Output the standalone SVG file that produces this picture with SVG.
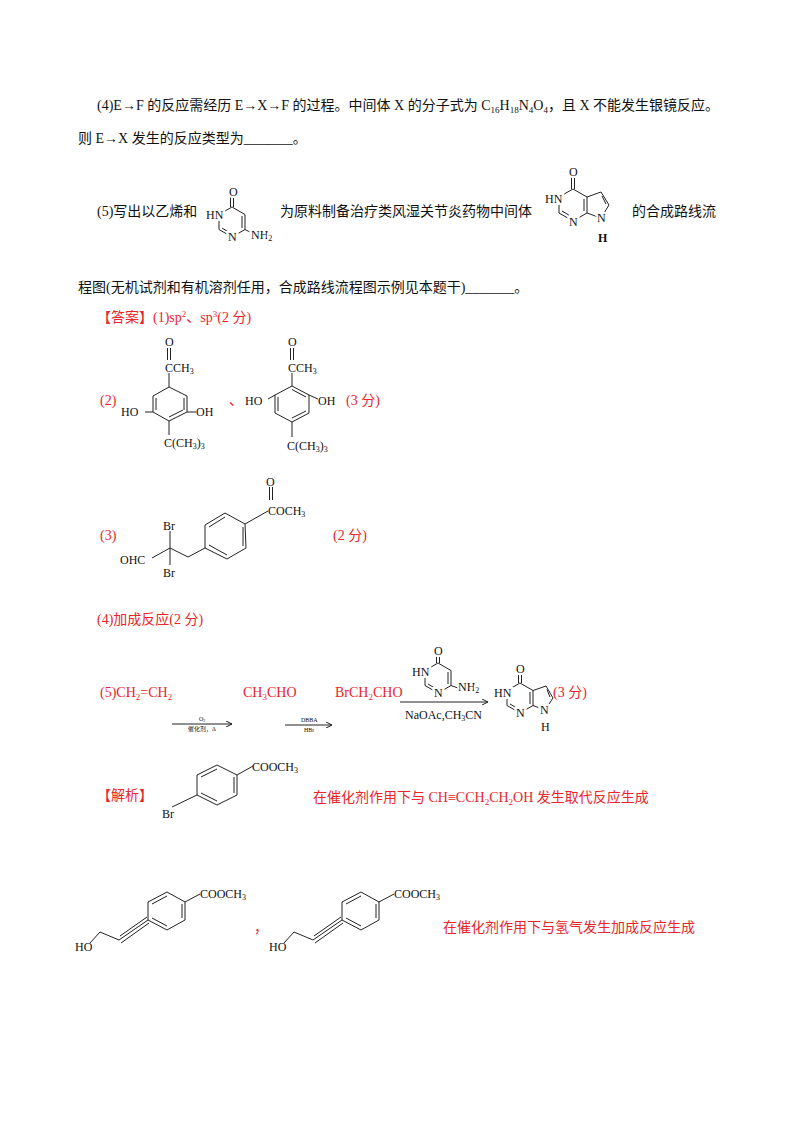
<svg xmlns="http://www.w3.org/2000/svg" width="800" height="1132" viewBox="0 0 800 1132">
<style>
text{font-family:"Liberation Serif","Noto Sans CJK SC",serif;fill:#111}
.t{font-size:14px}
.r{font-size:14px;fill:#e8262b}
.s{font-size:12px}
.h{stroke:#fff;stroke-width:4;paint-order:stroke}
.xs{font-size:6px}
.b{fill:none;stroke:#222;stroke-width:1}
</style>
<defs><marker id="ah" markerWidth="7" markerHeight="6" refX="6" refY="3" orient="auto"><path d="M0,0 L6,3 L0,6" fill="none" stroke="#222" stroke-width="1"/></marker></defs>
<rect width="800" height="1132" fill="#fff"/>
<g id="text">
<text class="t" x="97" y="110">(4)E→F 的反应需经历 E→X→F 的过程。中间体 X 的分子式为 C<tspan font-size="9" dy="3">16</tspan><tspan dy="-3">H</tspan><tspan font-size="9" dy="3">18</tspan><tspan dy="-3">N</tspan><tspan font-size="9" dy="3">4</tspan><tspan dy="-3">O</tspan><tspan font-size="9" dy="3">4</tspan><tspan dy="-3">，且 X 不能发生银镜反应。</tspan></text>
<text class="t" x="78" y="143">则 E→X 发生的反应类型为_______。</text>
<text class="t" x="97" y="216">(5)写出以乙烯和</text>
<text class="t" x="280" y="216">为原料制备治疗类风湿关节炎药物中间体</text>
<text class="t" x="632" y="216">的合成路线流</text>
<text class="t" x="78" y="292">程图(无机试剂和有机溶剂任用，合成路线流程图示例见本题干)_______。</text>
<text class="r" x="97" y="322">【答案】(1)sp<tspan font-size="9" dy="-5">2</tspan><tspan dy="5">、sp</tspan><tspan font-size="9" dy="-5">3</tspan><tspan dy="5">(2 分)</tspan></text>
<text class="r" x="100" y="405">(2)</text>
<text class="r" x="229" y="405">、</text>
<text class="r" x="346" y="405">(3 分)</text>
<text class="r" x="100" y="540">(3)</text>
<text class="r" x="333" y="540">(2 分)</text>
<text class="r" x="97" y="624">(4)加成反应(2 分)</text>
<text class="r" x="100" y="697">(5)CH<tspan font-size="9" dy="3">2</tspan><tspan dy="-3">=CH</tspan><tspan font-size="9" dy="3">2</tspan></text>
<text class="r" x="243" y="697">CH<tspan font-size="9" dy="3">3</tspan><tspan dy="-3">CHO</tspan></text>
<text class="r" x="335" y="697">BrCH<tspan font-size="9" dy="3">2</tspan><tspan dy="-3">CHO</tspan></text>
<text class="r" x="553" y="697">(3 分)</text>
<text class="r" x="97" y="800">【解析】</text>
<text class="r" x="313" y="802">在催化剂作用下与 CH≡CCH<tspan font-size="9" dy="3">2</tspan><tspan dy="-3">CH</tspan><tspan font-size="9" dy="3">2</tspan><tspan dy="-3">OH 发生取代反应生成</tspan></text>
<text class="r" x="254" y="932">，</text>
<text class="r" x="443" y="932">在催化剂作用下与氢气发生加成反应生成</text>
</g>
<g id="mol-pyrimidinone-top">
<path class="b" d="M232,207 L245,214.5 L245,229.5 L232,237 L219,229.5 L219,214.5 Z M230.5,207 L230.5,197 M233.5,207 L233.5,197 M242,216 L242,228 M222,228 L231,233.5 M245,229.5 L252,233"/>
<text class="s h" x="229" y="196">O</text>
<text class="s h" x="206" y="219">HN</text>
<text class="s h" x="228" y="241">N</text>
<text class="s h" x="251" y="239">NH<tspan font-size="8" dy="2">2</tspan></text>
</g>
<g id="mol-pyrrolopyrimidinone-top">
<path class="b" d="M573,189 L587,197 L587,213 L573,221 L559,213 L559,197 Z M571.5,189 L571.5,177 M574.5,189 L574.5,177 M584,199 L584,211 M562,211 L572,217 M587,197 L601,192 L609,205 L601,218 L587,213 M602,196 L606,204"/>
<text class="s h" x="569" y="176">O</text>
<text class="s h" x="545" y="203">HN</text>
<text class="s h" x="569" y="226">N</text>
<text class="s h" x="597" y="222">N</text>
<text class="s" x="598" y="242" font-weight="bold">H</text>
</g>
<g id="mol-answer2a">
<path class="b" d="M169,387 L187,396 L187,412 L169,421 L153,412 L153,396 Z M169,387 L169,373 M167.5,360 L167.5,348 M170.5,360 L170.5,348 M184,398 L184,410 M156,398 L156,410 M169,417 L183,410 M153,412 L145,412 M187,412 L196,412 M169,421 L169,435"/>
<text class="s" x="165" y="346">O</text>
<text class="s" x="165" y="372">CCH<tspan font-size="8" dy="2">3</tspan></text>
<text class="s" x="121" y="416">HO</text>
<text class="s" x="196" y="416">OH</text>
<text class="s" x="164" y="447">C(CH<tspan font-size="8" dy="2">3</tspan><tspan dy="-2">)</tspan><tspan font-size="8" dy="2">3</tspan></text>
</g>
<g id="mol-answer2b">
<path class="b" d="M292,386 L309,395 L309,413 L292,422 L275,413 L275,395 Z M292,386 L292,373 M290.5,360 L290.5,348 M293.5,360 L293.5,348 M278,397 L278,411 M292,418 L306,411 M292,389.5 L306,397 M275,395 L268,399 M309,395 L318,399 M292,422 L292,437"/>
<text class="s" x="288" y="346">O</text>
<text class="s" x="288" y="372">CCH<tspan font-size="8" dy="2">3</tspan></text>
<text class="s" x="245" y="405">HO</text>
<text class="s" x="318" y="405">OH</text>
<text class="s" x="287" y="450">C(CH<tspan font-size="8" dy="2">3</tspan><tspan dy="-2">)</tspan><tspan font-size="8" dy="2">3</tspan></text>
</g>
<g id="mol-answer3">
<path class="b" d="M205,525 L225,513 L245,524 L246,548 L227,559 L205,548 Z M209,527 L225,517 M243,527 L243,546 M209,545 L227,555 M245,524 L268,511 M269.5,500 L269.5,487 M272.5,500 L272.5,487 M205,548 L188,557 L170,548 L152,558 M170,548 L170,531 M170,548 L170,565"/>
<text class="s" x="266" y="486">O</text>
<text class="s" x="268" y="515">COCH<tspan font-size="8" dy="2">3</tspan></text>
<text class="s" x="163" y="530">Br</text>
<text class="s" x="120" y="564">OHC</text>
<text class="s" x="163" y="577">Br</text>
</g>
<g id="mol-pyrimidinone-reagent">
<path class="b" d="M438,663 L451,670.5 L451,685.5 L438,693 L425,685.5 L425,670.5 Z M436.5,663 L436.5,656 M439.5,663 L439.5,656 M448,672 L448,684 M428,684 L437,689.5 M451,685.5 L458,688"/>
<text class="s h" x="434" y="655">O</text>
<text class="s h" x="412" y="676">HN</text>
<text class="s h" x="434" y="697">N</text>
<text class="s h" x="458" y="691">NH<tspan font-size="8" dy="2">2</tspan></text>
</g>
<g id="mol-product">
<path class="b" d="M520,683 L533,690.5 L533,705.5 L520,713 L507,705.5 L507,690.5 Z M518.5,683 L518.5,674 M521.5,683 L521.5,674 M530,692 L530,704 M510,704 L519,709.5 M533,690.5 L546,686 L553,698 L545,710 L533,705.5 M547,689.5 L550,697"/>
<text class="s h" x="516" y="673">O</text>
<text class="s h" x="494" y="697">HN</text>
<text class="s h" x="516" y="717">N</text>
<text class="s h" x="540" y="714">N</text>
<text class="s" x="541" y="731">H</text>
</g>
<g id="connectors">
<line class="b" x1="172" y1="724" x2="232" y2="724" marker-end="url(#ah)"/>
<line class="b" x1="285" y1="725" x2="332" y2="725" marker-end="url(#ah)"/>
<line class="b" x1="400" y1="702" x2="488" y2="702" marker-end="url(#ah)"/>
<text class="xs" x="199" y="721">O<tspan font-size="4" dy="1">2</tspan></text>
<text class="xs" x="188" y="731">催化剂，Δ</text>
<text class="xs" x="301" y="722">DBBA</text>
<text class="xs" x="304" y="732">HBr</text>
<text class="s" x="405" y="719">NaOAc,CH<tspan font-size="8" dy="2">3</tspan><tspan dy="-2">CN</tspan></text>
</g>
<g id="mol-bromobenzoate">
<path class="b" d="M197,775 L217,765 L237,775 L237,795 L217,805 L197,795 Z M201,777 L217,769 M234,777 L234,793 M201,793 L217,801 M237,775 L253,766 M197,795 L172,807"/>
<text class="s" x="252" y="771">COOCH<tspan font-size="8" dy="2">3</tspan></text>
<text class="s" x="162" y="818">Br</text>
</g>
<g id="mol-alkyne1">
<path class="b" d="M148,902 L167,892 L185,902 L185,920 L167,930 L148,920 Z M152,904 L167,896 M182,904 L182,918 M152,918 L167,926 M185,902 L200,894 M148,920 L119,940 M147,917 L120,936 M149,923 L121,943 M119,940 L100,932 L90,943"/>
<text class="s" x="200" y="898">COOCH<tspan font-size="8" dy="2">3</tspan></text>
<text class="s" x="75" y="951">HO</text>
</g>
<g id="mol-alkyne2">
<path class="b" d="M342,902 L361,892 L379,902 L379,920 L361,930 L342,920 Z M346,904 L361,896 M376,904 L376,918 M346,918 L361,926 M379,902 L394,894 M342,920 L313,940 M341,917 L314,936 M343,923 L315,943 M313,940 L294,932 L284,943"/>
<text class="s" x="394" y="898">COOCH<tspan font-size="8" dy="2">3</tspan></text>
<text class="s" x="269" y="951">HO</text>
</g>
</svg>
